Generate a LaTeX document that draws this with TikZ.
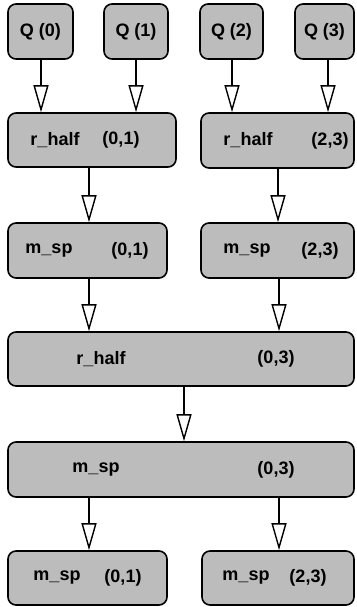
\documentclass[tikz,border=0pt]{standalone}
\usepackage{fontspec}
\setmainfont{Liberation Sans}
\usetikzlibrary{arrows.meta}
\definecolor{boxgray}{RGB}{188,188,188}
\begin{document}
\begin{tikzpicture}[x=1pt,y=-1pt,
  box/.style={draw=black, line width=1.6pt, fill=boxgray, rounded corners=8pt, inner sep=0pt},
  lbl/.style={inner sep=0pt, font=\fontsize{18}{20}\selectfont\bfseries},
  arr/.style={line width=1.4pt, -{Triangle[open, length=27pt, width=15pt, line width=1.4pt]}}]
\useasboundingbox (0,0) rectangle (356,607);
% top row
\node[box, minimum width=65pt, minimum height=55pt, font=\fontsize{18}{20}\selectfont\bfseries] (Q0) at (40.5,31.5) {Q (0)};
\node[box, minimum width=64pt, minimum height=55pt, font=\fontsize{18}{20}\selectfont\bfseries] (Q1) at (136,31.5) {Q (1)};
\node[box, minimum width=63pt, minimum height=55pt, font=\fontsize{18}{20}\selectfont\bfseries] (Q2) at (231.5,31.5) {Q (2)};
\node[box, minimum width=59pt, minimum height=55pt, font=\fontsize{18}{20}\selectfont\bfseries] (Q3) at (324.5,31.5) {Q (3)};
% boxes
\node[box, minimum width=168pt, minimum height=54pt] (r01) at (92,140) {};
\node[box, minimum width=153pt, minimum height=55pt] (r23) at (277.5,140.5) {};
\node[box, minimum width=159pt, minimum height=55pt] (m01) at (87.5,250.5) {};
\node[box, minimum width=153pt, minimum height=55pt] (m23) at (277.5,250.5) {};
\node[box, minimum width=346pt, minimum height=54pt] (r03) at (181,359) {};
\node[box, minimum width=346pt, minimum height=55pt] (m03) at (181,469.5) {};
\node[box, minimum width=159pt, minimum height=54pt] (b01) at (87.5,578) {};
\node[box, minimum width=152pt, minimum height=54pt] (b23) at (278,578) {};
% labels
\node[lbl] (r01a) at (55,140) {r\_half};
\node[lbl] (r01b) at (121,140) {(0,1)};
\node[lbl] (r23a) at (248,140.5) {r\_half};
\node[lbl] (r23b) at (330,140.5) {(2,3)};
\node[lbl] (m01a) at (49,250.5) {m\_sp};
\node[lbl] (m01b) at (130,250.5) {(0,1)};
\node[lbl] (m23a) at (247,250.5) {m\_sp};
\node[lbl] (m23b) at (320,250.5) {(2,3)};
\node[lbl] (r03a) at (101,359) {r\_half};
\node[lbl] (r03b) at (276,359) {(0,3)};
\node[lbl] (m03a) at (96,469.5) {m\_sp};
\node[lbl] (m03b) at (276,469.5) {(0,3)};
\node[lbl] (b01a) at (57,578) {m\_sp};
\node[lbl] (b01b) at (123,578) {(0,1)};
\node[lbl] (b23a) at (246,578) {m\_sp};
\node[lbl] (b23b) at (308,578) {(2,3)};
% arrows
\draw[arr] (Q0.south -| 41,0) -- (r01.north -| 41,0);
\draw[arr] (Q1.south -| 136,0) -- (r01.north -| 136,0);
\draw[arr] (Q2.south -| 232,0) -- (r23.north -| 232,0);
\draw[arr] (Q3.south -| 328,0) -- (r23.north -| 328,0);
\draw[arr] (r01.south -| 89,0) -- (m01.north -| 89,0);
\draw[arr] (r23.south -| 278,0) -- (m23.north -| 278,0);
\draw[arr] (m01.south -| 89,0) -- (r03.north -| 89,0);
\draw[arr] (m23.south -| 279,0) -- (r03.north -| 279,0);
\draw[arr] (r03.south -| 184,0) -- (m03.north -| 184,0);
\draw[arr] (m03.south -| 89,0) -- (b01.north -| 89,0);
\draw[arr] (m03.south -| 279,0) -- (b23.north -| 279,0);
\end{tikzpicture}
\end{document}
